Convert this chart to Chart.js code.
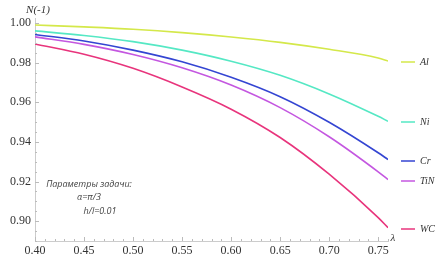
<!DOCTYPE html>
<html>
<head>
<meta charset="utf-8">
<script src="https://cdn.jsdelivr.net/npm/chart.js@4/dist/chart.umd.min.js"></script>
<style>
html,body{margin:0;padding:0;background:#fff;}
#c{display:block;}
</style>
</head>
<body>
<canvas id="c" width="442" height="258"></canvas>
<script>
const lambda = [0.40, 0.45, 0.50, 0.55, 0.60, 0.65, 0.70, 0.75, 0.76];
const seriesAl  = [0.9990, 0.9980, 0.9968, 0.9951, 0.9929, 0.9902, 0.9867, 0.9823, 0.9808];
const seriesNi  = [0.9960, 0.9937, 0.9906, 0.9863, 0.9807, 0.9736, 0.9642, 0.9529, 0.9504];
const seriesCr  = [0.9942, 0.9909, 0.9863, 0.9804, 0.9726, 0.9628, 0.9499, 0.9345, 0.9311];
const seriesTiN = [0.9930, 0.9892, 0.9841, 0.9774, 0.9687, 0.9573, 0.9426, 0.9249, 0.9210];
const seriesWC  = [0.9894, 0.9842, 0.9771, 0.9677, 0.9565, 0.9422, 0.9237, 0.9018, 0.8967];
const seriesNames = ['Al', 'Ni', 'Cr', 'TiN', 'WC'];
const xTicks = [0.40, 0.45, 0.50, 0.55, 0.60, 0.65, 0.70, 0.75];
const yTicks = [0.90, 0.92, 0.94, 0.96, 0.98, 1.00];
const yTitle = 'N(-1)';
const xTitle = 'λ';
const noteLines = ['Параметры задачи:', 'α=π/3', 'h/l=0.01'];

const allSeries = [seriesAl, seriesNi, seriesCr, seriesTiN, seriesWC];
const colors = ['#d4e84a', '#55e8c4', '#3445d2', '#c457e0', '#e8347c'];

const datasets = allSeries.map((s, i) => ({
  label: seriesNames[i],
  data: s.map((v, j) => ({x: lambda[j], y: v})),
  borderColor: colors[i],
  borderWidth: 1.6,
  pointRadius: 0,
  fill: false,
  cubicInterpolationMode: 'monotone'
}));

const tickFont = {family: '"Liberation Serif", serif', size: 12};

const extras = {
  id: 'extras',
  afterDraw(chart) {
    const ctx = chart.ctx;
    const xs = chart.scales.x, ys = chart.scales.y;
    const area = chart.chartArea;
    ctx.save();
    ctx.strokeStyle = '#bbb';
    ctx.lineWidth = 1;
    for (let v = 0.40; v <= 0.7601; v += 0.01) {
      const px = Math.round(xs.getPixelForValue(v)) + 0.5;
      const major = Math.abs(v * 20 - Math.round(v * 20)) < 1e-6;
      ctx.beginPath();
      ctx.moveTo(px, area.bottom);
      ctx.lineTo(px, area.bottom - (major ? 4 : 2));
      ctx.stroke();
    }
    for (let v = 0.89; v <= 1.0001; v += 0.005) {
      const py = Math.round(ys.getPixelForValue(v)) + 0.5;
      const major = Math.abs(v * 50 - Math.round(v * 50)) < 1e-6;
      ctx.beginPath();
      ctx.moveTo(area.left, py);
      ctx.lineTo(area.left + (major ? 4 : 2), py);
      ctx.stroke();
    }
    ctx.fillStyle = '#333';
    ctx.font = 'italic 11px "Liberation Serif", serif';
    ctx.textAlign = 'center';
    ctx.textBaseline = 'middle';
    ctx.fillText(yTitle, 38, 10);
    ctx.fillText(xTitle, 393, 238);
    ctx.font = 'italic 10px "Liberation Serif", serif';
    ctx.textAlign = 'left';
    chart.data.datasets.forEach((ds, i) => {
      const last = ds.data[ds.data.length - 1];
      const py = Math.round(ys.getPixelForValue(last.y) + 1);
      ctx.strokeStyle = ds.borderColor;
      ctx.lineWidth = 1.5;
      ctx.beginPath();
      ctx.moveTo(401, py);
      ctx.lineTo(415, py);
      ctx.stroke();
      ctx.fillStyle = '#333';
      ctx.fillText(ds.label, 420, py);
    });
    ctx.font = 'italic 9px "Open Sans", sans-serif';
    ctx.fillStyle = '#444';
    ctx.textAlign = 'center';
    ctx.fillText(noteLines[0], 89, 184);
    ctx.fillText(noteLines[1], 89, 197);
    ctx.fillText(noteLines[2], 100, 211);
    ctx.restore();
  }
};

new Chart(document.getElementById('c'), {
  type: 'line',
  data: {datasets},
  options: {
    responsive: false,
    animation: false,
    devicePixelRatio: 1,
    layout: {padding: {top: 18, right: 54, left: 0, bottom: 0}},
    plugins: {legend: {display: false}, tooltip: {enabled: false}},
    scales: {
      x: {
        type: 'linear',
        min: 0.40, max: 0.76,
        afterBuildTicks: s => { s.ticks = xTicks.map(v => ({value: v})); },
        afterFit: s => { s.height = 17; },
        grid: {display: true, drawOnChartArea: false, drawTicks: false},
        border: {display: true, color: '#ccc', width: 1},
        ticks: {font: tickFont, color: '#333', padding: 3, maxRotation: 0, autoSkip: false,
          callback: v => v.toFixed(2)}
      },
      y: {
        type: 'linear',
        min: 0.89, max: 1.0025,
        afterBuildTicks: s => { s.ticks = yTicks.map(v => ({value: v})); },
        afterFit: s => { s.width = 35; },
        grid: {display: true, drawOnChartArea: false, drawTicks: false},
        border: {display: true, color: '#ccc', width: 1},
        ticks: {font: tickFont, color: '#333', padding: 4, autoSkip: false,
          callback: v => v.toFixed(2)}
      }
    }
  },
  plugins: [extras]
});
</script>
</body>
</html>
